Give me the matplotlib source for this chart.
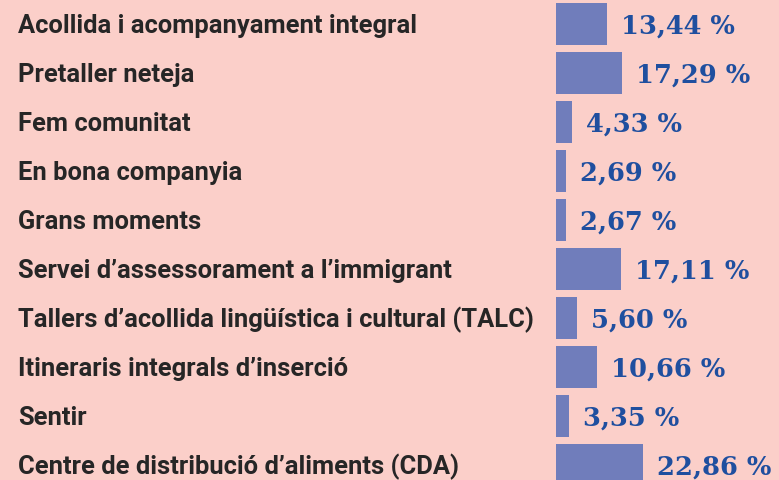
import matplotlib.pyplot as plt
from matplotlib.transforms import blended_transform_factory

labels = ['Acollida i acompanyament integral', 'Pretaller neteja', 'Fem comunitat',
          'En bona companyia', 'Grans moments', 'Servei d\u2019assessorament a l\u2019immigrant',
          'Tallers d\u2019acollida lingüística i cultural (TALC)', 'Itineraris integrals d\u2019inserció',
          'Sentir', 'Centre de distribució d\u2019aliments (CDA)']
values = [13.44, 17.29, 4.33, 2.69, 2.67, 17.11, 5.60, 10.66, 3.35, 22.86]

bg = '#fbcfc9'
bar_color = '#707dbb'
val_color = '#1f4f9f'

W, H = 779, 480
fig = plt.figure(figsize=(W / 100, H / 100), dpi=100, facecolor=bg)
x0 = 556
ax = fig.add_axes([x0 / W, 0, 1 - x0 / W, 1])
ax.set_facecolor(bg)
ppu = 3.8  # pixels per percent
ax.set_xlim(0, (W - x0) / ppu)
ax.set_ylim((H - 24) / 49, -24 / 49)
ax.axis('off')

ypos = list(range(len(values)))
ax.barh(ypos, values, height=42 / 49, color=bar_color)

for y, v in zip(ypos, values):
    txt = '{:.2f} %'.format(v).replace('.', ',')
    ax.text(v + 14 / ppu, y + 0.05, txt, va='center', ha='left', fontsize=18.5,
            fontweight='bold', color=val_color, family='DejaVu Serif')

tr = blended_transform_factory(fig.transFigure, ax.transData)
for y, lab in zip(ypos, labels):
    ax.text(18 / W, y + 0.04, lab, transform=tr, va='center', ha='left', fontsize=18.4,
            fontweight='bold', color='#262626', family='Roboto')

fig.savefig('out.png', dpi=100, facecolor=bg)
